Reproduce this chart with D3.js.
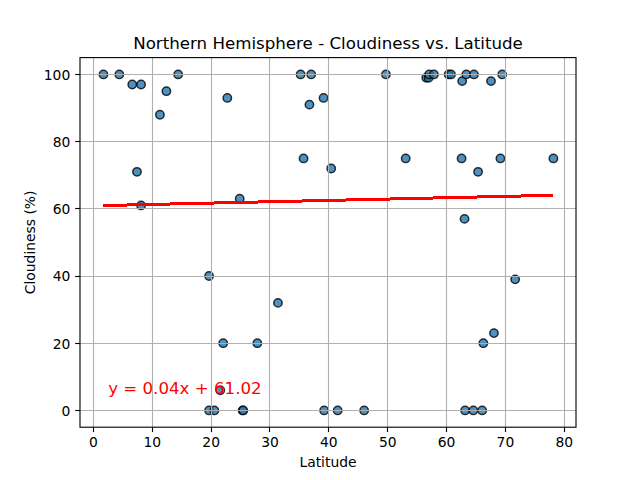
<!DOCTYPE html>
<html><head><meta charset="utf-8">
<script src="https://cdnjs.cloudflare.com/ajax/libs/d3/7.8.5/d3.min.js"></script>
<style>
html,body{margin:0;padding:0;background:#fff}
svg{display:block}
text{font-family:"DejaVu Sans",sans-serif;fill:#000}
</style></head><body><svg id="c" width="640" height="480"></svg>
<script>
const latitude=[1.7,4.4,6.6,8.1,12.4,11.3,14.4,22.75,7.4,8.1,24.85,35.2,37,39.1,36.7,35.7,40.4,49.7,53.05,56.55,56.95,57.05,57.85,60.35,60.75,62.65,63.35,64.65,67.55,69.45,62.55,69.15,78.15,65.35,63.05,19.65,31.35,22.05,27.85,21.55,19.65,20.55,25.35,25.45,39.2,41.5,46,63.15,64.55,66.05,66.25,68.05,71.65];
const cloudiness=[100,100,97,97,95,88,100,93,71,61,63,100,100,93,91,75,72,100,75,99,99,100,100,100,100,98,100,100,98,100,75,75,75,71,57,40,32,20,20,6,0,0,0,0,0,0,0,0,0,0,20,23,39];
const xTicks=[0,10,20,30,40,50,60,70,80];
const yTicks=[0,20,40,60,80,100];
const slope=0.04, intercept=61.02;
const xDomain=[-2.28,81.99], yDomain=[-5,105];
const titleText="Northern Hemisphere - Cloudiness vs. Latitude";
const xLabel="Latitude", yLabel="Cloudiness (%)";
const eqText="y = 0.04x + 61.02";

const L=80,R=576,T=57.6,B=427.2;
const x=d3.scaleLinear().domain(xDomain).range([L,R]);
const y=d3.scaleLinear().domain(yDomain).range([B,T]);
const svg=d3.select("#c");
const pts=latitude.map((v,i)=>[v,cloudiness[i]]);
const snap=v=>Math.floor(v)+0.5;

svg.append("g").selectAll("circle").data(pts).join("circle")
 .attr("cx",d=>x(d[0])).attr("cy",d=>y(d[1])).attr("r",4.17)
 .attr("fill","#1f77b4").attr("fill-opacity",0.8)
 .attr("stroke","#000").attr("stroke-opacity",0.8).attr("stroke-width",1.5);

const grid=svg.append("g").attr("stroke","#b0b0b0").attr("stroke-width",1.11);
grid.selectAll("line.v").data(xTicks).join("line").attr("class","v")
 .attr("x1",d=>snap(x(d))).attr("x2",d=>snap(x(d))).attr("y1",T).attr("y2",B);
grid.selectAll("line.h").data(yTicks).join("line").attr("class","h")
 .attr("y1",d=>snap(y(d))).attr("y2",d=>snap(y(d))).attr("x1",L).attr("x2",R);

const xs=d3.extent(latitude);
const line=d3.line().x(d=>x(d)).y(d=>y(slope*d+intercept)+0.4);
svg.append("path").attr("d",line(xs)).attr("fill","none").attr("stroke","#f00").attr("stroke-width",3).attr("shape-rendering","crispEdges");

svg.append("text").attr("x",x(2.5)).attr("y",y(5)+0.5).attr("font-size","16.67px")
 .style("fill","#f00").text(eqText);

const ax=svg.append("g").attr("transform",`translate(0,${B})`)
 .call(d3.axisBottom(x).offset(0).tickValues(xTicks).tickSize(4.86).tickPadding(4.86).tickFormat(d3.format("d")));
const ay=svg.append("g").attr("transform",`translate(${L},0)`)
 .call(d3.axisLeft(y).offset(0).tickValues(yTicks).tickSize(4.86).tickPadding(4.86).tickFormat(d3.format("d")));
[ax,ay].forEach(g=>{
 g.select(".domain").remove();
 g.selectAll("line").attr("stroke","#000").attr("stroke-width",1.11);
 g.selectAll("text").attr("font-size","13.89px").style("font-family",'"DejaVu Sans"');
});
ay.selectAll("text").attr("dy","0.39em");
ax.selectAll(".tick line").attr("transform",function(d){return `translate(${snap(x(d))-x(d)},0)`});
ay.selectAll(".tick line").attr("transform",function(d){return `translate(0,${snap(y(d))-y(d)})`});
svg.append("rect").attr("x",L).attr("y",T).attr("width",R-L).attr("height",B-T)
 .attr("fill","none").attr("stroke","#000").attr("stroke-width",1.11);

svg.append("text").attr("x",(L+R)/2).attr("y",T-8.6).attr("text-anchor","middle").attr("font-size","16.67px").text(titleText);
svg.append("text").attr("x",(L+R)/2).attr("y",467).attr("text-anchor","middle").attr("font-size","13.89px").text(xLabel);
svg.append("text").attr("transform",`translate(35,${(T+B)/2}) rotate(-90)`).attr("text-anchor","middle").attr("font-size","13.89px").text(yLabel);
</script></body></html>
